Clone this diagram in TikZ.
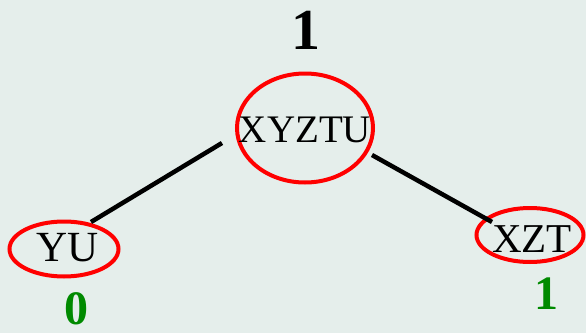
\documentclass[tikz,border=0pt]{standalone}
\usepackage{fontspec}
\setmainfont{Liberation Serif}
\usetikzlibrary{shapes.geometric}
\definecolor{bgcol}{HTML}{E5EEEB}
\definecolor{ringred}{HTML}{FF0000}
\definecolor{valgreen}{HTML}{008A00}
\tikzset{
  ring/.style={ellipse, draw=ringred, line width=4pt, inner sep=0pt},
  setlabel/.style={inner sep=0pt, font=\fontsize{39}{39}\selectfont},
  edge/.style={line width=4.5pt, black},
  rootval/.style={inner sep=0pt, font=\fontsize{58}{58}\selectfont\bfseries},
  leafval/.style={inner sep=0pt, text=valgreen, font=\fontsize{48}{48}\selectfont\bfseries}
}
\begin{document}
\begin{tikzpicture}[x=1pt,y=1pt]
  \fill[bgcol] (0,0) rectangle (586,333);
  \useasboundingbox (0,0) rectangle (586,333);

  % rings around the sets
  \node[ring, minimum width=136pt, minimum height=109pt] (top) at (305,205) {};
  \node[ring, minimum width=109pt, minimum height=55pt] (yu) at (64,84) {};
  \node[ring, minimum width=107pt, minimum height=54pt] (xzt) at (530,98) {};

  % set names
  \node[setlabel] (toptext) at (305,203) {XYZTU};
  \node[setlabel, font=\fontsize{43}{43}\selectfont] (yutext) at (68,85) {YU};
  \node[setlabel, font=\fontsize{41}{41}\selectfont] (xzttext) at (532,94) {XZT};

  % values
  \node[rootval] (rootv) at (306,303) {1};
  \node[leafval] (yuv) at (76,24) {0};
  \node[leafval] (xztv) at (546,39) {1};

  % branches
  \draw[edge] ([shift={(-83pt,-15pt)}]top.center) -- ([shift={(27pt,27pt)}]yu.center);
  \draw[edge] ([shift={(67pt,-27pt)}]top.center) -- ([shift={(-38pt,13pt)}]xzt.center);
\end{tikzpicture}
\end{document}
